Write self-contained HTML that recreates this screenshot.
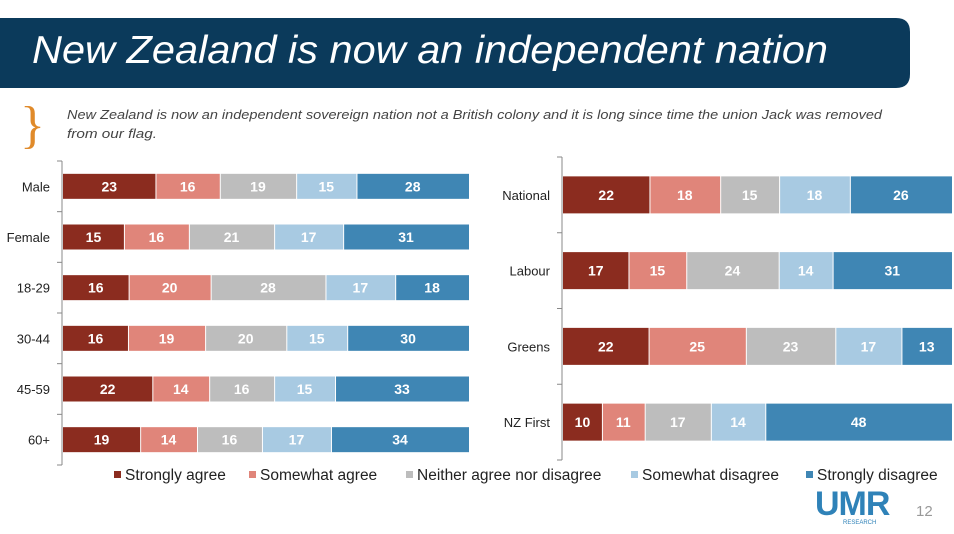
<!DOCTYPE html>
<html><head><meta charset="utf-8"><style>
body{margin:0;width:954px;height:534px;overflow:hidden;background:#fff;font-family:"Liberation Sans",sans-serif}
svg{display:block}
</style></head><body>
<svg id="s" width="954" height="534">
<path d="M0 18 H896 Q910 18 910 32 V74 Q910 88 896 88 H0 Z" fill="#0b3a5b"/>
<text x="32" y="63" font-size="39" font-style="italic" fill="#fff" textLength="796" lengthAdjust="spacingAndGlyphs">New Zealand is now an independent nation</text>
<text x="20" y="142" font-size="52" fill="#e08a2a" font-family="Liberation Serif,serif">}</text>
<text x="67" y="119" font-size="13" font-style="italic" fill="#444" textLength="815" lengthAdjust="spacingAndGlyphs">New Zealand is now an independent sovereign nation not a British colony and it is long since time the union Jack was removed</text>
<text x="67" y="138" font-size="13" font-style="italic" fill="#444" textLength="90" lengthAdjust="spacingAndGlyphs">from our flag.</text>
<g id="left"></g><g id="right"></g><g id="legend"></g>
<text x="815" y="515" font-size="34" font-weight="bold" fill="#2f82b8" letter-spacing="-1">UMR</text>
<text x="843" y="524" font-size="6" fill="#2f82b8">RESEARCH</text>
<text x="916" y="516" font-size="15" fill="#999">12</text>
</svg>
<script>
const seriesNames=["Strongly agree","Somewhat agree","Neither agree nor disagree","Somewhat disagree","Strongly disagree"];
const colors=["#8b2c1f","#e0857a","#bdbdbd","#a8cae2","#3f86b4"];
const leftCats=["Male","Female","18-29","30-44","45-59","60+"];
const leftVals=[[23,16,19,15,28],[15,16,21,17,31],[16,20,28,17,18],[16,19,20,15,30],[22,14,16,15,33],[19,14,16,17,34]];
const rightCats=["National","Labour","Greens","NZ First"];
const rightVals=[[22,18,15,18,26],[17,15,24,14,31],[22,25,23,17,13],[10,11,17,14,48]];
const NS="http://www.w3.org/2000/svg";
function mk(p,tag,a){const e=document.createElementNS(NS,tag);for(const k in a)e.setAttribute(k,a[k]);p.appendChild(e);return e;}
function chart(g,cats,vals,x0,x1,yTop,yBot,barH,name){
  const n=cats.length,band=(yBot-yTop)/n;
  const ax=mk(g,"line",{x1:x0-1,x2:x0-1,y1:yTop,y2:yBot,stroke:"#888","stroke-width":1});
  
  
  for(let i=0;i<=n;i++){const t=mk(g,"line",{x1:x0-6,x2:x0-1,y1:yTop+i*band,y2:yTop+i*band,stroke:"#888"});
    
    }
  cats.forEach((c,i)=>{
    const cy=yTop+(i+0.5)*band;
    const lb=mk(g,"text",{x:x0-13,y:cy+5,"font-size":13,fill:"#222","text-anchor":"end"});lb.textContent=c;
    
    
    const tot=vals[i].reduce((a,b)=>a+b,0);let acc=0;
    vals[i].forEach((v,j)=>{
      const xa=x0+(x1-x0)*acc/tot,xb=x0+(x1-x0)*(acc+v)/tot;acc+=v;
      const r=mk(g,"rect",{x:xa+(j?1:0),y:cy-barH/2,width:xb-xa-(j?1:0),height:barH,fill:colors[j]});
      
      
      const t=mk(g,"text",{x:(xa+xb)/2,y:cy+5,"font-size":14,"font-weight":"bold",fill:"#fff","text-anchor":"middle"});t.textContent=v;
      
      
    });
  });
}
chart(document.getElementById("left"),leftCats,leftVals,63,469,161,465,25,"demographic");
chart(document.getElementById("right"),rightCats,rightVals,563,952,157,460,37,"party");
const lg=document.getElementById("legend");
const lx=[114,249,406,631,806];
seriesNames.forEach((s,j)=>{
  const r=mk(lg,"rect",{x:lx[j],y:471,width:7,height:7,fill:colors[j]});
  
  
  const t=mk(lg,"text",{x:lx[j]+11,y:480,"font-size":15.5,fill:"#222"});t.textContent=s;
  
  
});
</script>
</body></html>
